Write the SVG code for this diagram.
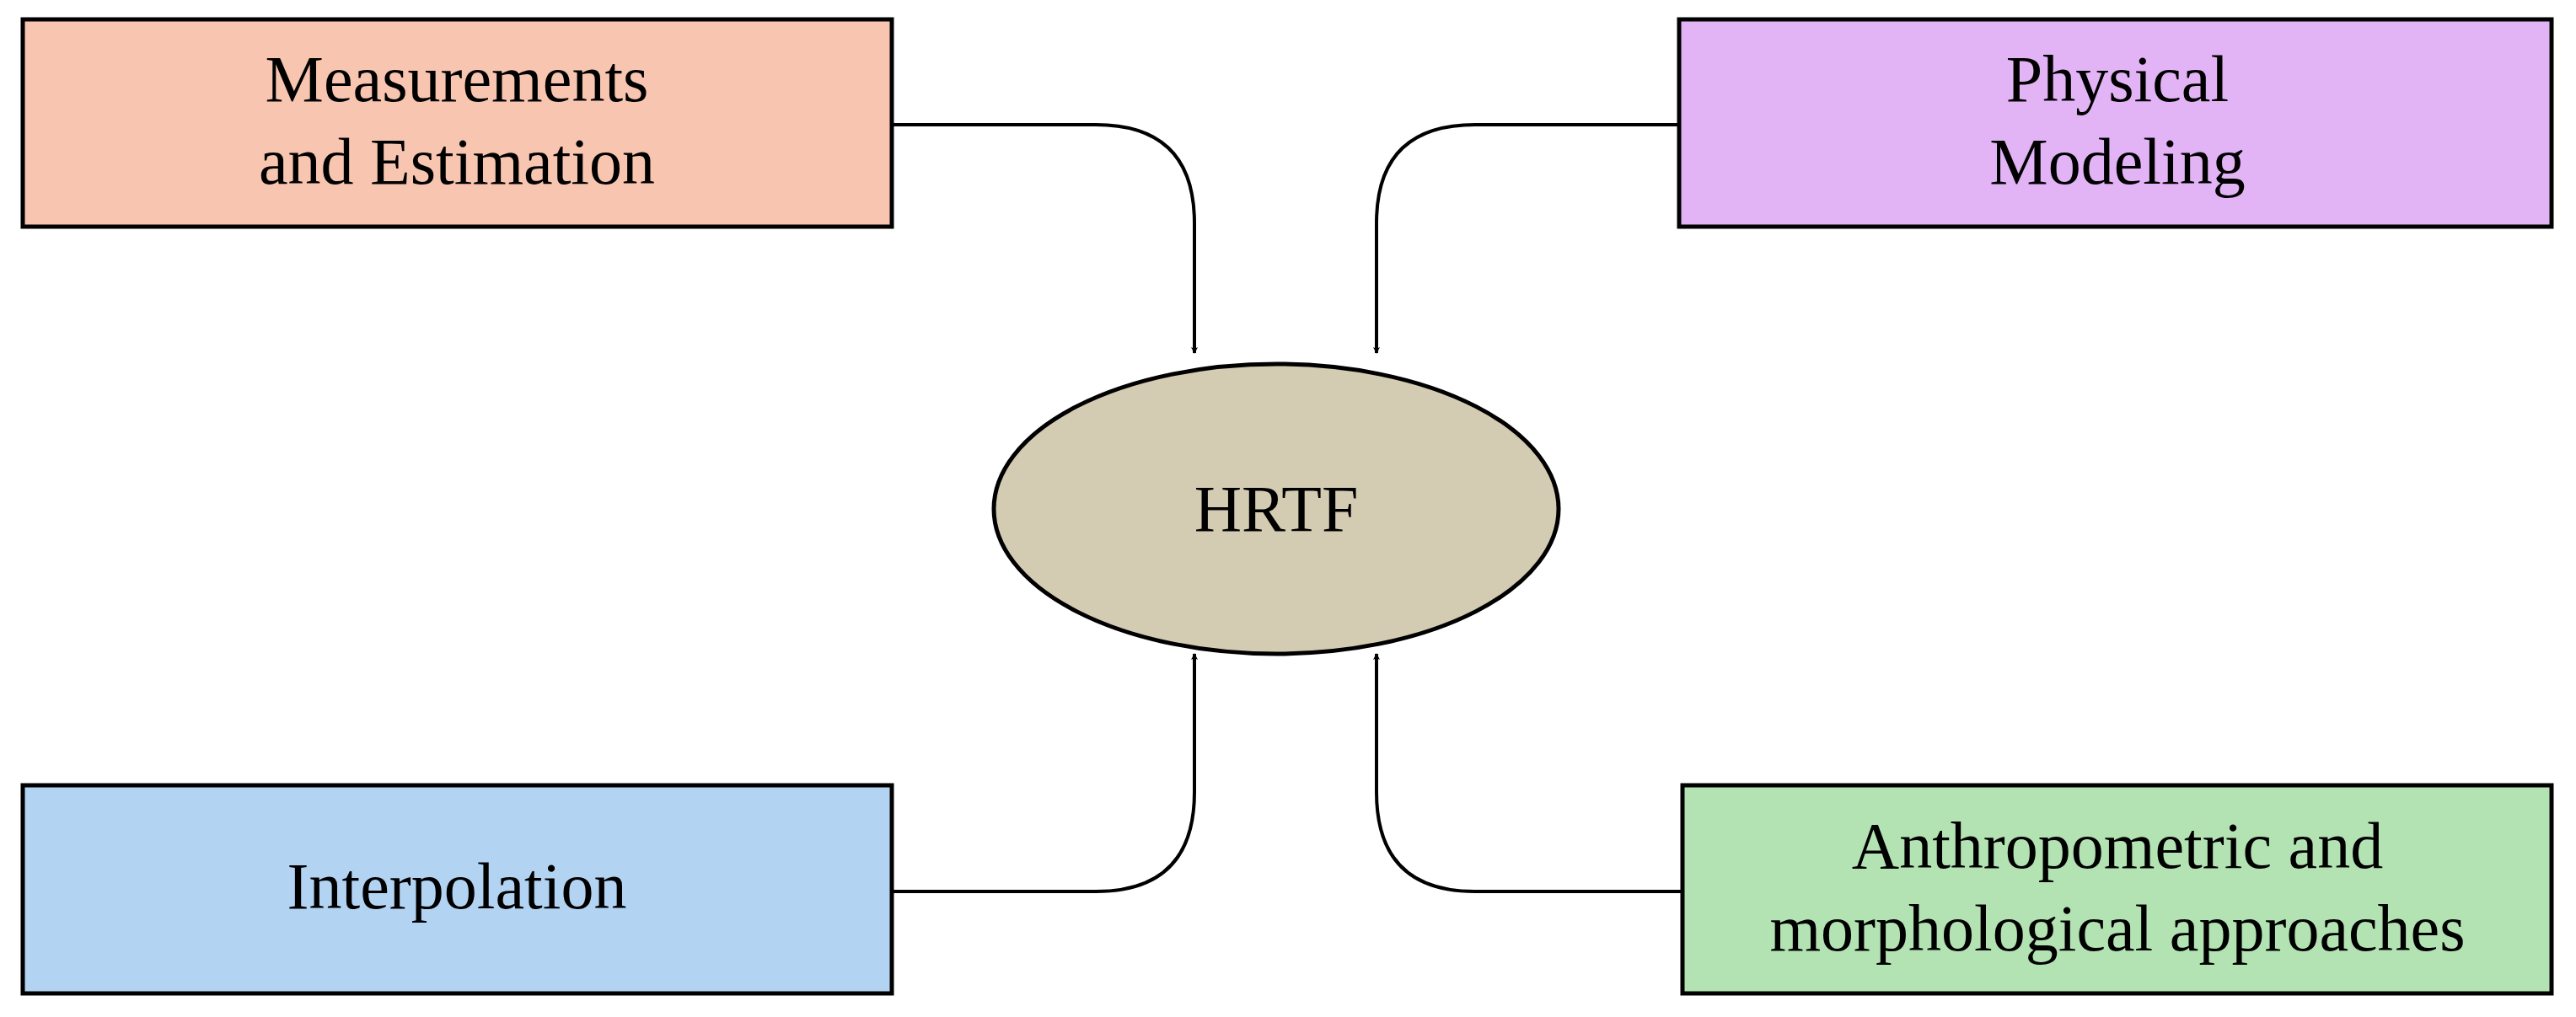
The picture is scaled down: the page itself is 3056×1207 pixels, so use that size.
<svg xmlns="http://www.w3.org/2000/svg" width="3056" height="1207" viewBox="0 0 3056 1207">
<style>
.b{stroke:#000;stroke-width:5}
.t{font-family:"Liberation Serif",serif;font-size:78px;text-anchor:middle;fill:#000}
.c{fill:none;stroke:#000;stroke-width:4;marker-end:url(#a)}
</style>
<defs><marker id="a" markerWidth="8" markerHeight="8" refX="7" refY="4" orient="auto" markerUnits="userSpaceOnUse" viewBox="0 0 8 8"><path d="M0,0 L8,4 L0,8 L2,4 Z" fill="#000"/></marker></defs>
<rect width="3056" height="1207" fill="#fff"/>
<g id="connectors">
<path class="c" d="M1058,148 L1300,148 Q1417,148 1417,265 L1417,419"/>
<path class="c" d="M1992,148 L1750,148 Q1633,148 1633,265 L1633,419"/>
<path class="c" d="M1058,1058 L1300,1058 Q1417,1058 1417,940 L1417,776"/>
<path class="c" d="M1996,1058 L1750,1058 Q1633,1058 1633,940 L1633,776"/>
</g>
<g id="measurements"><rect class="b" x="27" y="23" width="1031" height="246" fill="#f8c5b0"/><text class="t" x="542" y="120">Measurements</text><text class="t" x="542" y="218">and Estimation</text></g>
<g id="physical"><rect class="b" x="1992" y="23" width="1035" height="246" fill="#e2b3f5"/><text class="t" x="2512" y="120">Physical</text><text class="t" x="2512" y="218">Modeling</text></g>
<g id="interpolation"><rect class="b" x="27" y="932" width="1031" height="247" fill="#b3d3f2"/><text class="t" x="542" y="1078">Interpolation</text></g>
<g id="anthro"><rect class="b" x="1996" y="932" width="1031" height="247" fill="#b3e3b3"/><text class="t" x="2512" y="1030">Anthropometric and</text><text class="t" x="2512" y="1128">morphological approaches</text></g>
<g id="hrtf"><ellipse class="b" cx="1514" cy="604" rx="335" ry="172" fill="#d4cbb3"/><text class="t" x="1514" y="630">HRTF</text></g>
</svg>
